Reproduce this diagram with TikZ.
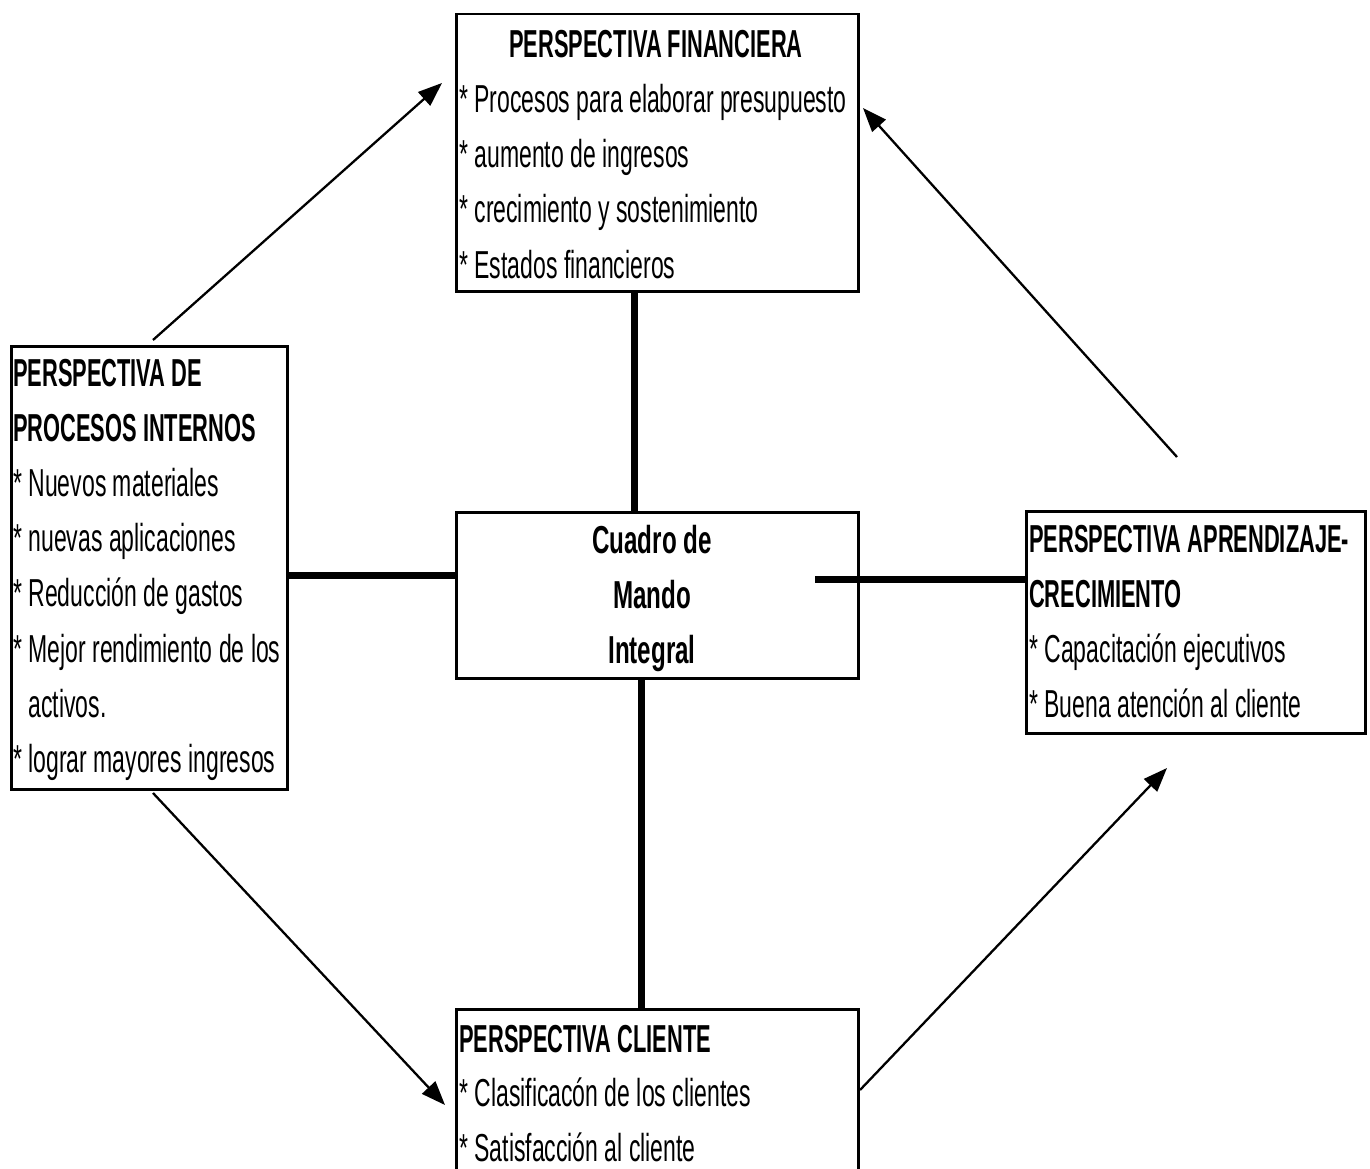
\documentclass[tikz,border=0pt]{standalone}
\usepackage{fontspec}
\usetikzlibrary{arrows.meta,calc}
% condensed sans faces for the panels
\newfontfamily\bodyfont[FakeStretch=0.59]{Liberation Sans}
\newfontfamily\headfont[FakeStretch=0.56]{Liberation Sans}
\newfontfamily\corefont[FakeStretch=0.62]{Liberation Sans}

\begin{document}
\begin{tikzpicture}[x=1pt,y=-1pt,
  panel/.style={draw=black, line width=2.5pt, rectangle, inner sep=0pt, anchor=north west},
  itemtext/.style={font=\bodyfont\fontsize{39}{55.3}\selectfont, align=left, inner sep=0pt, anchor=north west},
  headtext/.style={font=\headfont\bfseries\fontsize{39}{55.3}\selectfont, align=left, inner sep=0pt, anchor=north west},
  coretext/.style={font=\corefont\bfseries\fontsize{39}{55.3}\selectfont, align=center, inner sep=0pt, anchor=north},
  bar/.style={line width=7pt},
  flow/.style={line width=2.3pt, -{Triangle[length=24pt,width=18pt]}}
]
\useasboundingbox (0,0) rectangle (1370,1169);
\clip (0,0) rectangle (1370,1169);

% panels
\node[panel, minimum width=402pt, minimum height=277pt] (fin) at (455,13) {};
\node[panel, minimum width=276pt, minimum height=443pt] (pi) at (10,345) {};
\node[panel, minimum width=402pt, minimum height=166pt] (core) at (455,511) {};
\node[panel, minimum width=339pt, minimum height=222pt] (apr) at (1025,510) {};
\node[panel, minimum width=402pt, minimum height=200pt] (cli) at (455,1008) {};

% financial perspective
\node[headtext, anchor=north] (finH) at (656,18.3) {\strut PERSPECTIVA FINANCIERA};
\node[itemtext] (finT) at (459,73.3) {\strut* Procesos para elaborar presupuesto\\
  * aumento de ingresos\\
  * crecimiento y sostenimiento\\
  * Estados financieros};

% internal processes perspective
\node[headtext] (piH) at (13,347.3) {\strut PERSPECTIVA DE\\ PROCESOS INTERNOS};
\node[itemtext] (piT) at (13,457.3) {\strut* Nuevos materiales\\
  * nuevas aplicaciones\\
  * Reducción de gastos\\
  * Mejor rendimiento de los\\
  \hphantom{* }activos.\\
  * lograr mayores ingresos};

% centre
\node[coretext] (coreT) at (652,514.3) {\strut Cuadro de\\ Mando\\ Integral};

% learning and growth perspective
\node[headtext] (aprH) at (1029,513.3) {\strut PERSPECTIVA APRENDIZAJE-\\ CRECIMIENTO};
\node[itemtext] (aprT) at (1029,623.3) {\strut* Capacitación ejecutivos\\
  * Buena atención al cliente};

% customer perspective
\node[headtext] (cliH) at (459,1013.3) {\strut PERSPECTIVA CLIENTE};
\node[itemtext] (cliT) at (459,1067.3) {\strut* Clasificacón de los clientes\\
  * Satisfacción al cliente};

% thick links to the centre
\draw[bar] ($(fin.south west)+(179,0)$) -- ($(core.north west)+(179,0)$);
\draw[bar] ($(core.south west)+(186,0)$) -- ($(cli.north west)+(186,0)$);
\draw[bar] ($(pi.north east)+(0,230)$) -- ($(core.north west)+(0,64)$);
\coordinate (coreR) at ($(core.north west)+(360,68)$);
\draw[bar] (coreR) -- ($(apr.north west)+(0,69)$);

% cycle arrows
\coordinate (a1s) at (153,340);  \coordinate (a1e) at (442,83);
\coordinate (a2s) at (153,793);  \coordinate (a2e) at (445,1105);
\coordinate (a3s) at (860,1090); \coordinate (a3e) at (1167,768);
\coordinate (a4s) at (1177,457); \coordinate (a4e) at (863,108);
\draw[flow] (a1s) -- (a1e);
\draw[flow] (a2s) -- (a2e);
\draw[flow] (a3s) -- (a3e);
\draw[flow] (a4s) -- (a4e);
\end{tikzpicture}
\end{document}
